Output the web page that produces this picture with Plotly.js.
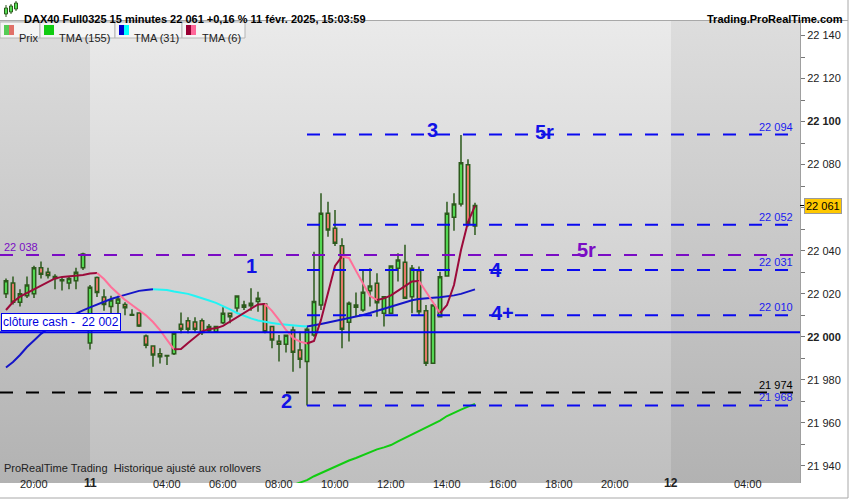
<!DOCTYPE html>
<html>
<head>
<meta charset="utf-8">
<script src="https://cdn.plot.ly/plotly-3.0.1.min.js"></script>
<style>
  html, body { margin: 0; padding: 0; background: #fff; }
  #chart { width: 850px; height: 500px; }
</style>
</head>
<body>
<div id="chart"></div>
<script>
// 15 minute bars, DAX40 Full0325, 10-11 Feb 2025 (bar -4 = 19:00 on the 10th)
const firstBar = -4;
const opens  = [22020, 22025, 22016, 22019, 22020, 22032, 22030, 22028, 22026.5, 22025, 22026, 22032,
  21997, 22027.5, 22018.5, 22014, 22015.5, 22015, 22010.3, 22011, 22000.3, 21995.7, 21992, 21991.3,
  21992, 22005.8, 22007.4, 22006.8, 22007.4, 22002.8, 22002.3, 22006.5, 22010.9, 22013.3, 22013.7, 22014.4,
  22016.3, 22015.2, 22004.7, 21997.9, 21996.5, 22003.1, 21993.8, 21988.4, 22000.8, 22014.7, 22057.4, 22050.4,
  22042.3, 22006.7, 22013.7, 22012.4, 22021.4, 22024.8, 22010.9, 22010.9, 22031.8, 22034.6, 22018.6, 22030.7,
  22012, 21987.6, 22009.3, 22028.2, 22055.5, 22061.7, 22079.9, 22051.5];
const highs  = [22027, 22028, 22022, 22028, 22033, 22035, 22032, 22029, 22027.5, 22028, 22032, 22039,
  22024, 22028, 22022, 22019, 22019, 22016, 22012.7, 22011.2, 22001, 21996, 21994.6, 21991.6,
  22002.3, 22011.2, 22009, 22009, 22008.4, 22005.9, 22005, 22013.7, 22011.2, 22019, 22016.7, 22022.5,
  22020.9, 22015.5, 22004.7, 22000.8, 22000.8, 22004.7, 22002.3, 22004.7, 22039.5, 22066.7, 22062.8, 22058.9,
  22045.8, 22016.3, 22020.5, 22030.7, 22031.8, 22029.5, 22018.6, 22032.9, 22038.8, 22042.7, 22033.3, 22032.6,
  22014.7, 22014.7, 22030.2, 22062.8, 22066.7, 22093.8, 22082.5, 22062.3];
const lows   = [22018, 22015, 22014, 22018, 22018, 22027, 22027, 22022, 22021.5, 22022, 22022, 22031,
  21994, 22018.5, 22012, 22011, 22010, 22010, 22009.8, 22004.5, 21994.6, 21986, 21987.5, 21986.8,
  21991.5, 22001.6, 22001.6, 22002.3, 22000.8, 22001.9, 22001.9, 22005.9, 22006.2, 22011.6, 22012.4, 22012.1,
  22011.6, 22001.6, 21994.6, 21988.4, 21992.6, 21983.7, 21985.3, 21968, 22000, 22012.4, 22046.5, 22042.2,
  21994.6, 21997.7, 22009.3, 22011.6, 22014, 22009.3, 22004.7, 22010.6, 22025.6, 22017.9, 22010.9, 22010.1,
  21986.4, 21987.6, 22009.3, 22027.9, 22049.3, 22060.5, 22051.2, 22047.3];
const closes = [22026, 22016, 22020, 22024, 22032, 22029, 22028.5, 22027, 22026, 22027, 22030, 22038.5,
  22023, 22020.5, 22015, 22017, 22017.5, 22013.5, 22010, 22005, 21996, 21991.5, 21990.7, 21991,
  22001.6, 22003.4, 22003.4, 22003.4, 22001.9, 22004.7, 22004.7, 22010.9, 22009.3, 22018.9, 22014.7, 22015.5,
  22017.9, 22002.3, 21998.5, 21996.5, 22000.7, 21992.7, 21989.5, 22003.4, 22016.3, 22057.4, 22049.6, 22043.4,
  22003.4, 22015.5, 22014.7, 22020.7, 22023.6, 22015.8, 22018.6, 22032.9, 22035.7, 22017.9, 22031.8, 22011.6,
  21987.6, 22014.7, 22027.9, 22057.4, 22061.7, 22080.9, 22052.7, 22061];

// moving averages
const tma6 = [22012.4, 22016.1, 22018.6, 22020.3, 22022.2, 22024, 22025.7, 22027.1, 22027.8, 22028.1, 22028.3, 22028.7,
  22029.4, 22029.6, 22026.8, 22023.1, 22019.9, 22017.1, 22014.7, 22012.4, 22009.9, 22006.8, 22003.1, 21998.5,
  21994.1, 21994.3, 21997.1, 21999.9, 22002.4, 22003.6, 22003.9, 22005, 22007, 22008.9, 22011, 22013.3,
  22015, 22015.2, 22012, 22007.8, 22003.1, 21999.4, 21997.7, 21996.8, 21998, 22007.8, 22020.3, 22032.9,
  22037.3, 22036.6, 22030.6, 22024.5, 22018.9, 22017.1, 22017.8, 22019.2, 22021.3, 22023.6, 22025.7, 22025.9,
  22020.8, 22015.7, 22011, 22014.7, 22024, 22040.3, 22053.3, 22060.8];
const tma31 = [21985.7, 21988.2, 21991.5, 21995.2, 21998.2, 22001.3, 22003.8, 22005.4, 22007.3, 22009.2, 22010.8, 22012.2,
  22013.6, 22015, 22016.1, 22017.5, 22018.5, 22019.4, 22020.6, 22021.3, 22021.7, 22022, 22021.95, 22021.7,
  22021, 22020.6, 22019.9, 22018.9, 22018, 22016.8, 22015.7, 22014.3, 22012.7, 22011, 22009.6, 22008.5,
  22007.5, 22006.8, 22006.4, 22005.9, 22005.7, 22005.3, 22005, 22004.7, 22005.2, 22005.9, 22006.6, 22007.3,
  22007.9, 22008.5, 22009.3, 22010.1, 22011, 22012, 22012.9, 22014, 22015, 22016, 22016.9, 22017.5,
  22017.9, 22018.1, 22018.3, 22018.7, 22019.2, 22019.9, 22021, 22022];
const tma155Start = 37;
const tma155 = [21931, 21932.2, 21933.3, 21935.1, 21936.6, 21938.2, 21939.6, 21941, 21942.4, 21943.6, 21945, 21946.4,
  21947.6, 21948.5, 21949.6, 21951.3, 21952.9, 21954.4, 21955.9, 21957.8, 21959.4, 21961, 21963.1, 21964.7,
  21966.1, 21967.5, 21968.7];

// levels drawn on the chart
const pivotLevels = [22094, 22052, 22031, 22010, 21968];
const pivotStartBar = 39;
const dailyLevel = 22038;
const cashClose = 22002;
const blackLevel = 21974;
const lastPrice = 22061;

const waveLabels = ["1", "2", "3", "4", "4+", "5r"];
const waveBars   = [31, 36, 57, 66, 67, 73];
const waveValues = [22033, 21970, 22096, 22031, 22011, 22095];

const tickBars   = [0, 8, 19, 27, 35, 43, 51, 59, 67, 75, 83, 91, 102];
const tickLabels = ["20:00", "11", "04:00", "06:00", "08:00", "10:00", "12:00", "14:00", "16:00", "18:00", "20:00", "12", "04:00"];
const dayLabels  = ["11", "12"];

const xMin = -4.857, xMax = 109.43;
const yMin = 21931.95, yMax = 22146.8;

const bars = closes.map((_, k) => firstBar + k);

function fmt(v) {
  return String(Math.round(v)).replace(/(\d)(?=(\d{3})+$)/g, "$1 ");
}
// pixel helpers for the page furniture (plot area 0..800 x 21..483)
const px = X => X / 800;
const py = Y => (483 - Y) / 462;

function colourSegments(xs, vals, upColour, downColour) {
  const out = [];
  let dir = null, start = 0;
  const push = (a, b, d) => out.push({
    x: xs.slice(a, b + 1), y: vals.slice(a, b + 1), type: "scatter", mode: "lines",
    line: { color: d < 0 ? downColour : upColour, width: 2 }, hoverinfo: "skip", showlegend: false
  });
  for (let k = 1; k < vals.length; k++) {
    let d = vals[k] > vals[k - 1] ? 1 : vals[k] < vals[k - 1] ? -1 : dir;
    if (dir === null) dir = d;
    if (d !== dir) { push(start, k - 1, dir); start = k - 1; dir = d; }
  }
  push(start, vals.length - 1, dir);
  return out;
}

const candles = {
  type: "candlestick", x: bars, open: opens, high: highs, low: lows, close: closes,
  increasing: { line: { color: "#2c5a1c", width: 1.5 }, fillcolor: "#55dd55" },
  decreasing: { line: { color: "#2c5a1c", width: 1.5 }, fillcolor: "#ec7a6c" },
  whiskerwidth: 0, showlegend: false, hoverinfo: "skip"
};

const data = [candles]
  .concat([{ x: tma155.map((_, k) => tma155Start + k), y: tma155, type: "scatter", mode: "lines",
             line: { color: "#11cc11", width: 2 }, showlegend: false, hoverinfo: "skip" }])
  .concat(colourSegments(bars, tma31, "#1414c8", "#22f4f4"))
  .concat(colourSegments(bars, tma6, "#9c0a3a", "#ff7099"));

function gradient(top, bottom) {
  return "data:image/svg+xml;charset=utf-8," + encodeURIComponent(
    '<svg xmlns="http://www.w3.org/2000/svg" width="10" height="100" viewBox="0 0 10 100" preserveAspectRatio="none">' +
    '<defs><linearGradient id="g" x1="0" y1="0" x2="0" y2="1"><stop offset="0" stop-color="' + top + '"/>' +
    '<stop offset="1" stop-color="' + bottom + '"/></linearGradient></defs>' +
    '<rect width="10" height="100" fill="url(#g)"/></svg>');
}

const shapes = [];
const annotations = [];
const dashed = "13px,13px";

pivotLevels.forEach(v => {
  shapes.push({ type: "line", xref: "x", yref: "y", x0: pivotStartBar, x1: 108, y0: v, y1: v,
                line: { color: "#0a0af0", width: 2, dash: dashed } });
  annotations.push({ xref: "paper", yref: "y", x: px(795), y: v, yshift: 8, xanchor: "right", text: fmt(v),
                     showarrow: false, font: { size: 11, color: "#1a1af0" } });
});
shapes.push({ type: "line", xref: "x", yref: "y", x0: xMin, x1: 108.6, y0: dailyLevel, y1: dailyLevel,
              line: { color: "#7a0cc4", width: 2, dash: dashed } });
annotations.push({ xref: "paper", yref: "y", x: px(2), y: dailyLevel, yshift: 8, xanchor: "left", text: fmt(dailyLevel),
                   showarrow: false, font: { size: 11, color: "#7a0cc4" } });
shapes.push({ type: "line", xref: "x", yref: "y", x0: xMin, x1: 108.6, y0: blackLevel, y1: blackLevel,
              line: { color: "#000", width: 2, dash: dashed } });
annotations.push({ xref: "paper", yref: "y", x: px(795), y: blackLevel, yshift: 8, xanchor: "right", text: fmt(blackLevel),
                   showarrow: false, font: { size: 11, color: "#000" } });
shapes.push({ type: "line", xref: "paper", yref: "y", x0: 0, x1: 1, y0: cashClose, y1: cashClose,
              line: { color: "#0000ee", width: 2 } });
annotations.push({ xref: "paper", yref: "y", x: px(1), y: cashClose, yshift: 10, xanchor: "left",
                   text: "clôture cash -\u00a0 " + fmt(cashClose), showarrow: false, bgcolor: "#fff",
                   bordercolor: "#0000ee", borderwidth: 1, borderpad: 1, font: { size: 12, color: "#0000dd" } });

waveLabels.forEach((t, k) => annotations.push({ xref: "x", yref: "y", x: waveBars[k], y: waveValues[k], text: "<b>" + t + "</b>",
  showarrow: false, font: { size: 20, color: "#1212e6" } }));
annotations.push({ xref: "x", yref: "y", x: 79, y: 22040.3, text: "<b>5r</b>", showarrow: false,
                   font: { size: 20, color: "#7a0cc4" } });

// last price tag
annotations.push({ xref: "paper", yref: "y", x: px(804), y: lastPrice, xanchor: "left", text: fmt(lastPrice),
                   showarrow: false, bgcolor: "#ffc800", bordercolor: "#9a9a9a", borderwidth: 1, borderpad: 1,
                   font: { size: 11, color: "#000" } });
shapes.push({ type: "line", xref: "paper", yref: "y", x0: 1, x1: px(804), y0: lastPrice, y1: lastPrice,
              line: { color: "#000", width: 1 } });

// time labels under the axis ticks
tickBars.forEach((b, k) => {
  const t = tickLabels[k];
  annotations.push({ xref: "x", yref: "paper", x: b, y: py(492), showarrow: false,
                     text: dayLabels.includes(t) ? "<b>" + t + "</b>" : t,
                     font: { size: dayLabels.includes(t) ? 12 : 11, color: "#222" } });
});

// header
shapes.push({ type: "line", xref: "paper", yref: "paper", x0: 0, x1: px(848), y0: py(20.5), y1: py(20.5),
              line: { color: "#a8a8a8", width: 1 } });
shapes.push({ type: "line", xref: "paper", yref: "paper", x0: px(848), x1: px(848), y0: py(0), y1: py(498),
              line: { color: "#a8a8a8", width: 1 } });
shapes.push({ type: "line", xref: "paper", yref: "paper", x0: 0, x1: px(848), y0: py(498), y1: py(498),
              line: { color: "#a8a8a8", width: 1 } });
[[6, 8, 14, 5, 17], [11, 6, 12, 4, 14], [16, 3, 9, 1, 11]].forEach(c => {
  shapes.push({ type: "line", xref: "paper", yref: "paper", x0: px(c[0]), x1: px(c[0]), y0: py(c[3]), y1: py(c[4]),
                line: { color: "#2c5a1c", width: 1 } });
  shapes.push({ type: "rect", xref: "paper", yref: "paper", x0: px(c[0] - 1.5), x1: px(c[0] + 1.5), y0: py(c[1]), y1: py(c[2]),
                fillcolor: "#55dd55", line: { color: "#2c5a1c", width: 1 } });
});
annotations.push({ xref: "paper", yref: "paper", x: px(22), y: py(11), xanchor: "left", showarrow: false,
                   text: "<b>DAX40 Full0325 15 minutes 22 061 +0,16 % 11 févr. 2025, 15:03:59</b>",
                   font: { size: 11, color: "#000" } });
annotations.push({ xref: "paper", yref: "paper", x: px(845), y: py(11), xanchor: "right", showarrow: false,
                   text: "<b>Trading.ProRealTime.com</b>", font: { size: 11, color: "#000" } });

// legend boxes
const legendBoxes = [
  { x0: 0, x1: 40, label: "Prix", lx: 17, sw: ["#55cc55", "#e07068"] },
  { x0: 40, x1: 115, label: "TMA (155)", lx: 57, sw: ["#11cc11", "#11cc11"] },
  { x0: 115, x1: 182, label: "TMA (31)", lx: 132, sw: ["#0000cc", "#00ffff"] },
  { x0: 182, x1: 245, label: "TMA (6)", lx: 200, sw: ["#990033", "#ff6699"] }
];
legendBoxes.forEach(b => {
  shapes.push({ type: "rect", xref: "paper", yref: "paper", x0: px(b.x0), x1: px(b.x1), y0: py(38), y1: py(22),
                fillcolor: "#f5f5f5", line: { color: "#b5b5b5", width: 1 } });
  shapes.push({ type: "rect", xref: "paper", yref: "paper", x0: px(b.x0 + 4), x1: px(b.x0 + 9), y0: py(35), y1: py(25),
                fillcolor: b.sw[0], line: { width: 0 } });
  shapes.push({ type: "rect", xref: "paper", yref: "paper", x0: px(b.x0 + 9), x1: px(b.x0 + 14), y0: py(35), y1: py(25),
                fillcolor: b.sw[1], line: { width: 0 } });
  annotations.push({ xref: "paper", yref: "paper", x: px(b.lx), y: py(30), xanchor: "left", showarrow: false,
                     text: b.label, font: { size: 11, color: "#222" } });
});

annotations.push({ xref: "paper", yref: "paper", x: px(2), y: py(476), xanchor: "left", showarrow: false,
                   text: "ProRealTime Trading  Historique ajusté aux rollovers", font: { size: 11, color: "#222" } });

const yTicks = [], yTickText = [], yMinor = [];
for (let v = 21940; v <= 22140; v += 20) {
  yTicks.push(v);
  yTickText.push(v % 100 === 0 ? "<b>" + fmt(v) + "</b>" : fmt(v));
}
for (let v = 21950; v <= 22140; v += 20) yMinor.push(v);

const layout = {
  width: 850, height: 500,
  margin: { l: 0, r: 50, t: 21, b: 17, pad: 0 },
  paper_bgcolor: "#ffffff",
  plot_bgcolor: "#d8d8d8",
  font: { family: "Arial, Liberation Sans, sans-serif", size: 11, color: "#222" },
  showlegend: false,
  xaxis: {
    range: [xMin, xMax], showgrid: false, zeroline: false, fixedrange: true,
    rangeslider: { visible: false },
    tickmode: "array", tickvals: tickBars, showticklabels: false,
    ticks: "outside", ticklen: 3, tickcolor: "#999"
  },
  yaxis: {
    side: "right", range: [yMin, yMax], showgrid: false, zeroline: false, fixedrange: true,
    tickmode: "array", tickvals: yTicks, ticktext: yTickText,
    ticks: "outside", ticklen: 4, tickcolor: "#777", tickfont: { size: 11, color: "#222" },
    minor: { tickvals: yMinor, ticks: "outside", ticklen: 4, tickcolor: "#777" },
    showline: true, linecolor: "#a0a0a0", linewidth: 1
  },
  images: [
    { source: gradient("#eaeaea", "#bfbfbf"), xref: "paper", yref: "paper", x: 0, y: 1, sizex: 1, sizey: 1,
      xanchor: "left", yanchor: "top", sizing: "stretch", layer: "below" },
    { source: gradient("#dddddd", "#b2b2b2"), xref: "x", yref: "paper", x: xMin, y: 1, sizex: 8 - xMin, sizey: 1,
      xanchor: "left", yanchor: "top", sizing: "stretch", layer: "below" },
    { source: gradient("#dddddd", "#b2b2b2"), xref: "x", yref: "paper", x: 91, y: 1, sizex: xMax - 91, sizey: 1,
      xanchor: "left", yanchor: "top", sizing: "stretch", layer: "below" }
  ],
  shapes: shapes,
  annotations: annotations
};

Plotly.newPlot("chart", data, layout, { displayModeBar: false, staticPlot: true });
</script>
</body>
</html>
